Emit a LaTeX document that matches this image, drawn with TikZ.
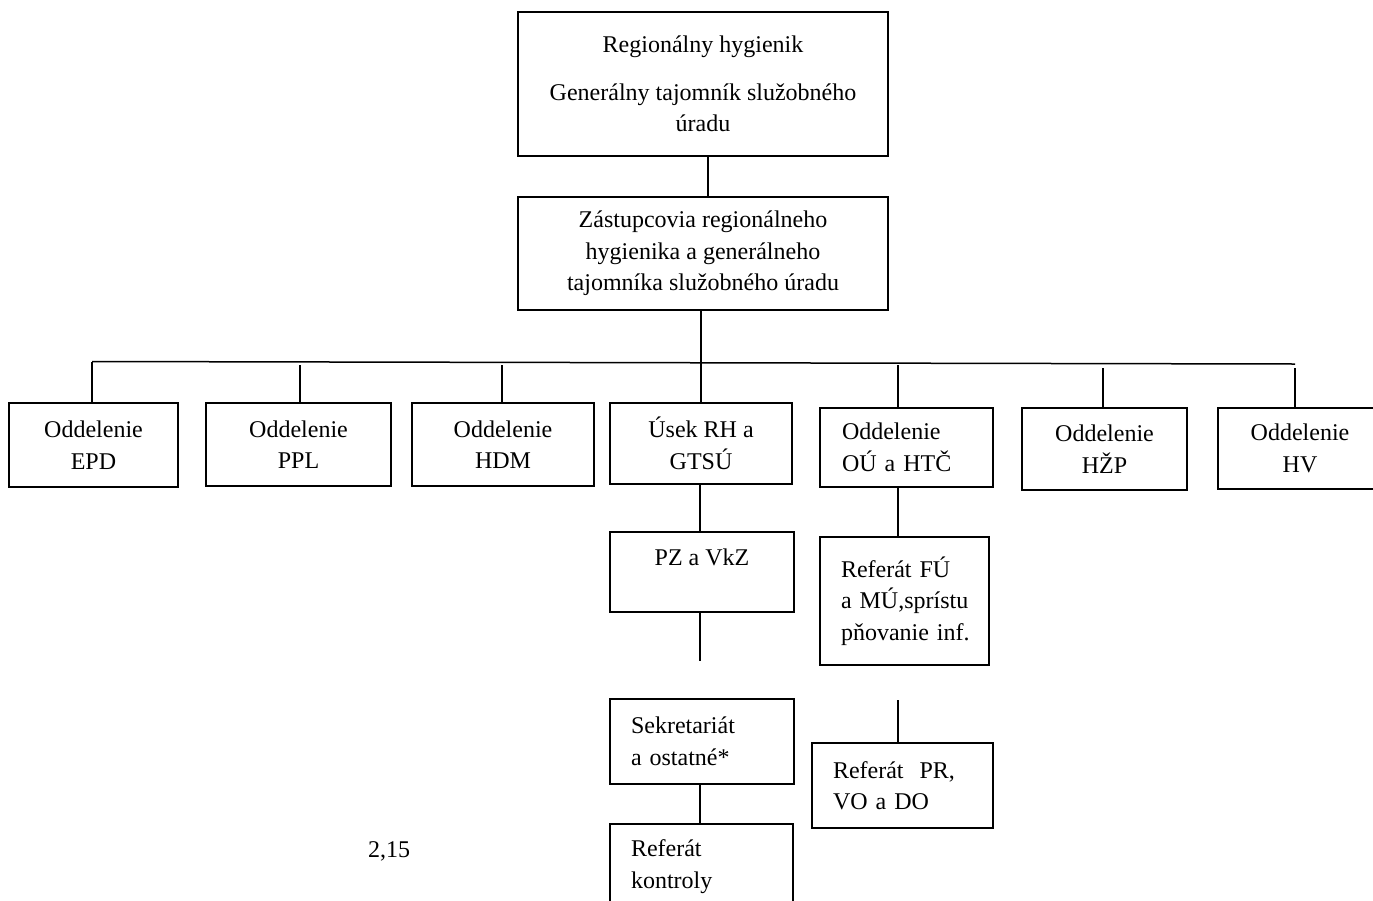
\documentclass[tikz,border=0pt]{standalone}
\usepackage{fontspec}
\setmainfont{Liberation Serif}
\begin{document}
\begin{tikzpicture}[x=1pt,y=-1pt,
  every node/.style={font=\fontsize{24}{31.5}\selectfont},
  box/.style={draw,line width=1.5pt,inner ysep=0pt,inner xsep=0pt,align=center},
  lbox/.style={draw,line width=1.5pt,inner ysep=0pt,inner xsep=21pt,align=left},
  conn/.style={line width=1.5pt}]
\useasboundingbox (0,0) rectangle (1373,900);
\clip (0,0) rectangle (1373,900);
% top levels
\node[box,minimum width=370pt,minimum height=144pt] (top) at (703,84)
  {Regionálny hygienik\\[16pt]Generálny tajomník služobného\\úradu};
\node[box,minimum width=370pt,minimum height=113pt] (zast) at (703,253.5)
  {Zástupcovia regionálneho\\hygienika a generálneho\\tajomníka služobného úradu};
% departments
\node[box,minimum width=169pt,minimum height=84pt] (EPD) at (93.5,445) {Oddelenie\\EPD};
\node[box,minimum width=185pt,minimum height=83pt] (PPL) at (298.5,444.5) {Oddelenie\\PPL};
\node[box,minimum width=182pt,minimum height=83pt] (HDM) at (503,444.5) {Oddelenie\\HDM};
\node[box,minimum width=182pt,minimum height=81pt] (Usek) at (701,443.5) {Úsek RH a\\GTSÚ};
\node[lbox,inner xsep=22pt,text width=129pt,minimum height=79pt] (OU) at (906.5,447.5) {Oddelenie\\OÚ~a~HTČ};
\node[box,minimum width=165pt,minimum height=82pt] (HZP) at (1104.5,449) {Oddelenie\\HŽP};
\node[box,minimum width=164pt,minimum height=81pt] (HV) at (1300,448.5) {Oddelenie\\HV};
% lower boxes
\node[box,minimum width=184pt,minimum height=80pt,text height=17pt,text depth=31pt] (PZ) at (702,572) {PZ a VkZ};
\node[lbox,text width=142pt,minimum height=85pt] (Sek) at (702,741.5) {Sekretariát\\a~ostatné*};
\node[lbox,text width=141pt,minimum height=85pt] (RK) at (701.5,866.5) {Referát\\kontroly};
\node[lbox,text width=127pt,minimum height=128pt] (RFU) at (904.5,601) {Referát~FÚ\\a~MÚ,sprístu\\pňovanie~inf.};
\node[lbox,text width=139pt,minimum height=85pt] (RPR) at (902.5,785.5) {Referát~~PR,\\VO~a~DO};
\node[anchor=base] (num) at (389,857) {2,15};
% connector coordinates
\coordinate (busL) at (92,361.5);
\coordinate (busR) at (1295,364);
\coordinate (tPPL) at (300,365);
\coordinate (tHDM) at (502,365);
\coordinate (tOU) at (898,365);
\coordinate (tHZP) at (1103,368);
\coordinate (tHV) at (1295,368);
\coordinate (ePZ) at (700,661);
\coordinate (tRPR) at (898,700);
% connectors
\draw[conn] ([xshift=5pt]top.south) -- ([xshift=5pt]zast.north);
\draw[conn] (zast.south -| Usek.north) -- (Usek.north);
\draw[conn] (busL) -- (busR);
\draw[conn] (busL) -- (busL |- EPD.north);
\draw[conn] (tPPL) -- (tPPL |- PPL.north);
\draw[conn] (tHDM) -- (tHDM |- HDM.north);
\draw[conn] (tOU) -- (tOU |- OU.north);
\draw[conn] (tHZP) -- (tHZP |- HZP.north);
\draw[conn] (tHV) -- (tHV |- HV.north);
\draw[conn] (Usek.south -| ePZ) -- (PZ.north -| ePZ);
\draw[conn] (PZ.south -| ePZ) -- (ePZ);
\draw[conn] (Sek.south -| ePZ) -- (RK.north -| ePZ);
\draw[conn] (OU.south -| tOU) -- (RFU.north -| tOU);
\draw[conn] (tRPR) -- (tRPR |- RPR.north);
\end{tikzpicture}
\end{document}
